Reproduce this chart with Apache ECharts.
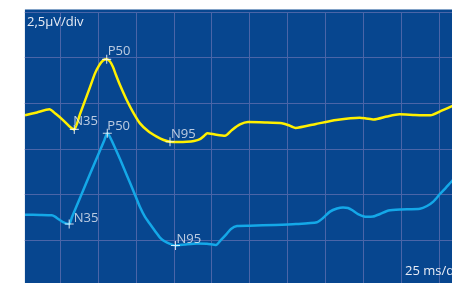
<!DOCTYPE html>
<html>
<head>
<meta charset="utf-8">
<script src="https://cdn.jsdelivr.net/npm/echarts@6/dist/echarts.min.js"></script>
<style>
html,body{margin:0;padding:0;background:#fff;}
#chart{width:452px;height:287px;}
</style>
</head>
<body>
<div id="chart"></div>
<script>
// Time in ms (25 ms/div), amplitude in µV (2.5 µV/div)
const yellowCurve = [
  [1.72, 9.34], [9.64, 9.50], [17.77, 9.67], [22.19, 9.41], [26.82, 9.08], [30.78, 8.76],
  [34.28, 8.57], [38.04, 9.41], [41.35, 10.15], [44.65, 10.89], [47.95, 11.64], [50.59, 12.07],
  [53.24, 12.35], [55.68, 12.41], [57.86, 12.29], [59.84, 11.99], [61.82, 11.55], [64.46, 11.00],
  [68.89, 10.18], [73.05, 9.52], [77.67, 8.90], [82.96, 8.48], [88.70, 8.17], [92.87, 8.00],
  [97.49, 7.89], [102.77, 7.88], [108.52, 7.89], [113.34, 7.93], [117.30, 8.03], [119.95, 8.21],
  [122.13, 8.36], [127.21, 8.29], [133.82, 8.22], [138.44, 8.54], [143.72, 8.84], [149.01, 8.97],
  [160.24, 8.95], [171.47, 8.91], [175.43, 8.81], [180.38, 8.65], [193.92, 8.87], [207.33, 9.08],
  [222.72, 9.21], [226.95, 9.17], [232.10, 9.11], [240.82, 9.28], [249.14, 9.40], [259.31, 9.36],
  [269.55, 9.34], [276.49, 9.58], [283.75, 9.84], [289.04, 10.02]
];
const blueCurve = [
  [1.72, 3.89], [11.62, 3.88], [19.35, 3.86], [21.53, 3.79], [23.71, 3.66], [26.82, 3.49],
  [30.91, 3.38], [32.76, 3.77], [38.04, 4.81], [44.65, 6.12], [51.25, 7.41], [53.90, 7.93],
  [56.08, 8.36], [57.86, 8.15], [60.04, 7.77], [64.46, 6.95], [68.89, 6.07], [73.25, 5.21],
  [77.67, 4.31], [80.98, 3.77], [84.28, 3.38], [87.58, 3.00], [90.88, 2.64], [94.19, 2.42],
  [97.49, 2.29], [101.12, 2.20], [107.40, 2.26], [115.32, 2.32], [121.93, 2.30], [127.87, 2.23],
  [131.18, 2.51], [134.81, 2.83], [137.78, 3.11], [141.74, 3.27], [150.33, 3.29], [166.84, 3.33],
  [180.71, 3.38], [194.58, 3.48], [198.55, 3.71], [203.17, 4.06], [207.79, 4.23], [211.76, 4.29],
  [215.06, 4.26], [217.70, 4.15], [221.66, 3.93], [227.41, 3.78], [231.57, 3.79], [236.20, 3.93],
  [241.81, 4.12], [249.40, 4.18], [262.61, 4.22], [267.24, 4.37], [271.40, 4.61], [275.82, 5.03],
  [279.79, 5.38], [283.75, 5.74], [289.04, 6.18]
];
// Peak markers: name, time, amplitude, label offset
const yellowPeaks = [
  ['N35', 34.28, 8.57, [-1, -1.3]],
  ['P50', 55.68, 12.41, [1, -1.3]],
  ['N95', 97.49, 7.89, [1, -0.7]]
];
const bluePeaks = [
  ['N35', 30.91, 3.38, [4.5, 0.7]],
  ['P50', 56.08, 8.36, [0, -0.3]],
  ['N95', 101.12, 2.20, [1, 0]]
];
const xTicks = { min: 0, max: 283.75, interval: 25 };
const yTicks = { min: 0, max: 15, interval: 2.5 };
const yLabel = '2,5µV/div';
const xLabel = '25 ms/div';

const PANEL = '#07468f';
const GRIDC = '#4a65a8';
const TXT = '#e8ecf5';
const FONT = '"Open Sans", "Noto Sans", sans-serif';
const plus = 'path://M4.4,0H5.6V4.4H10V5.6H5.6V10H4.4V5.6H0V4.4H4.4Z';

function peakSeries(peaks) {
  return {
    type: 'scatter',
    symbol: plus,
    symbolSize: 9,
    z: 5,
    itemStyle: { color: '#ffffff' },
    label: {
      show: true,
      position: [4.5, 4.5],
      align: 'left',
      verticalAlign: 'bottom',
      color: TXT,
      fontSize: 13,
      lineHeight: 13,
      fontFamily: FONT,
      formatter: p => p.name
    },
    data: peaks.map(p => ({ name: p[0], value: [p[1], p[2]], label: { offset: p[3] } }))
  };
}

const chart = echarts.init(document.getElementById('chart'), null, { renderer: 'canvas' });
chart.setOption({
  animation: false,
  graphic: [
    { type: 'rect', z: -10, shape: { x: 24.7, y: 9.6, width: 428, height: 273.4 }, style: { fill: PANEL } },
    { type: 'rect', z: 90, shape: { x: 0, y: 283, width: 452, height: 4 }, style: { fill: '#ffffff' } },
    { type: 'rect', z: 90, shape: { x: 0, y: 0, width: 24.7, height: 287 }, style: { fill: '#ffffff' } },
    { type: 'text', z: 100, left: 27, top: 16, style: { text: yLabel, fill: TXT, fontSize: 13, fontFamily: FONT } },
    { type: 'text', z: 100, left: 405, top: 265, style: { text: xLabel, fill: TXT, fontSize: 13, fontFamily: FONT } }
  ],
  grid: { left: 22.4, top: 12.1, width: 429.6, height: 273.6, containLabel: false },
  xAxis: {
    type: 'value', min: xTicks.min, max: xTicks.max, interval: xTicks.interval,
    axisLine: { show: false }, axisTick: { show: false }, axisLabel: { show: false },
    splitLine: { show: true, showMinLine: false, showMaxLine: false, lineStyle: { color: GRIDC, width: 1 } }
  },
  yAxis: {
    type: 'value', min: yTicks.min, max: yTicks.max, interval: yTicks.interval,
    axisLine: { show: false }, axisTick: { show: false }, axisLabel: { show: false },
    splitLine: { show: true, showMinLine: false, lineStyle: { color: GRIDC, width: 1 } }
  },
  series: [
    {
      type: 'line', data: yellowCurve, smooth: 0.2, symbol: 'none', z: 3,
      lineStyle: { color: '#fff000', width: 2.5, join: 'round' }
    },
    {
      type: 'line', data: blueCurve, smooth: 0.2, symbol: 'none', z: 3,
      lineStyle: { color: '#14a8e8', width: 2.5, join: 'round' }
    },
    peakSeries(yellowPeaks),
    peakSeries(bluePeaks)
  ]
});
</script>
</body>
</html>
